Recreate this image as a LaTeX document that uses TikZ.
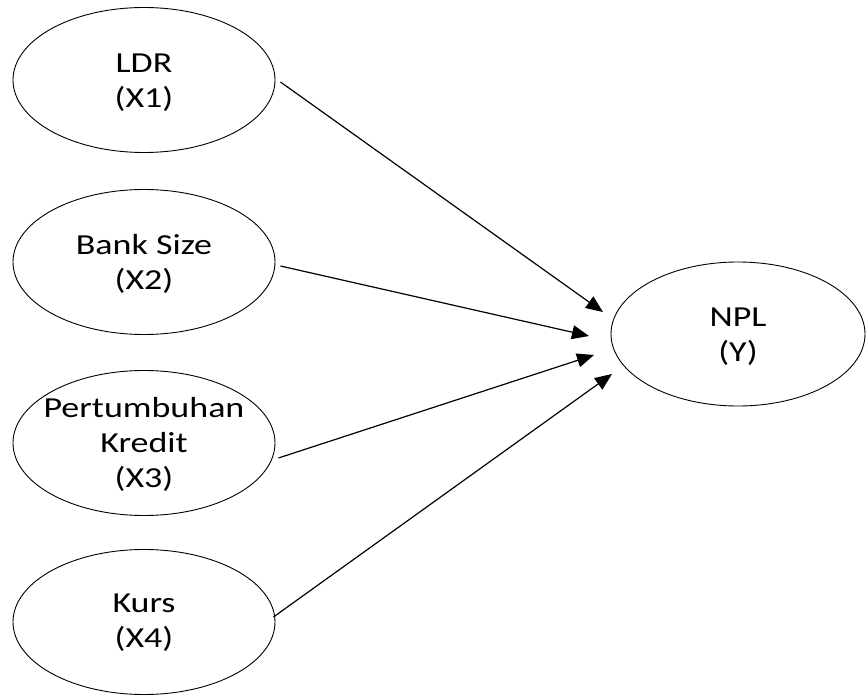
\documentclass[tikz,border=0pt]{standalone}
\usepackage{fontspec}
\setmainfont[FakeStretch=1.24]{Carlito}
\usetikzlibrary{shapes.geometric,arrows.meta,calc}
\begin{document}
\begin{tikzpicture}[x=1pt,y=-1pt,
  txt/.style={align=center,inner sep=0pt,font=\fontsize{29}{35}\selectfont},
  varbox/.style={ellipse,draw,line width=0.9pt,inner sep=0pt,
    minimum width=262pt,minimum height=145pt},
  npbox/.style={varbox,minimum width=254pt,minimum height=144pt},
  link/.style={line width=1.2pt,-{Triangle[length=17pt,width=14pt]}}]
\useasboundingbox (0,0) rectangle (867,695);
\node[varbox,label={[txt,yshift=-3pt]center:LDR\\(X1)}] (ldr) at (144,80) {};
\node[varbox,label={[txt,yshift=-2pt]center:Bank Size\\(X2)}] (bs) at (144,262) {};
\node[varbox,label={[txt,yshift=-1pt]center:Pertumbuhan\\Kredit\\(X3)}] (pk) at (144,443) {};
\node[varbox,label={[txt,yshift=-1pt]center:Kurs\\(X4)}] (ks) at (144,622) {};
\node[npbox,label={[txt,yshift=-3pt]center:NPL\\(Y)}] (npl) at (738,334) {};
\coordinate (e1) at (603,312);
\coordinate (e2) at (589,336);
\coordinate (e3) at (594,355);
\coordinate (e4) at (612,374);
\draw[link] ($(ldr.east)+(5,2)$) -- (e1);
\draw[link] ($(bs.east)+(5,4)$) -- (e2);
\draw[link] ($(pk.east)+(3,15)$) -- (e3);
\draw[link] ($(ks.east)+(-2,-5)$) -- (e4);
\end{tikzpicture}
\end{document}
